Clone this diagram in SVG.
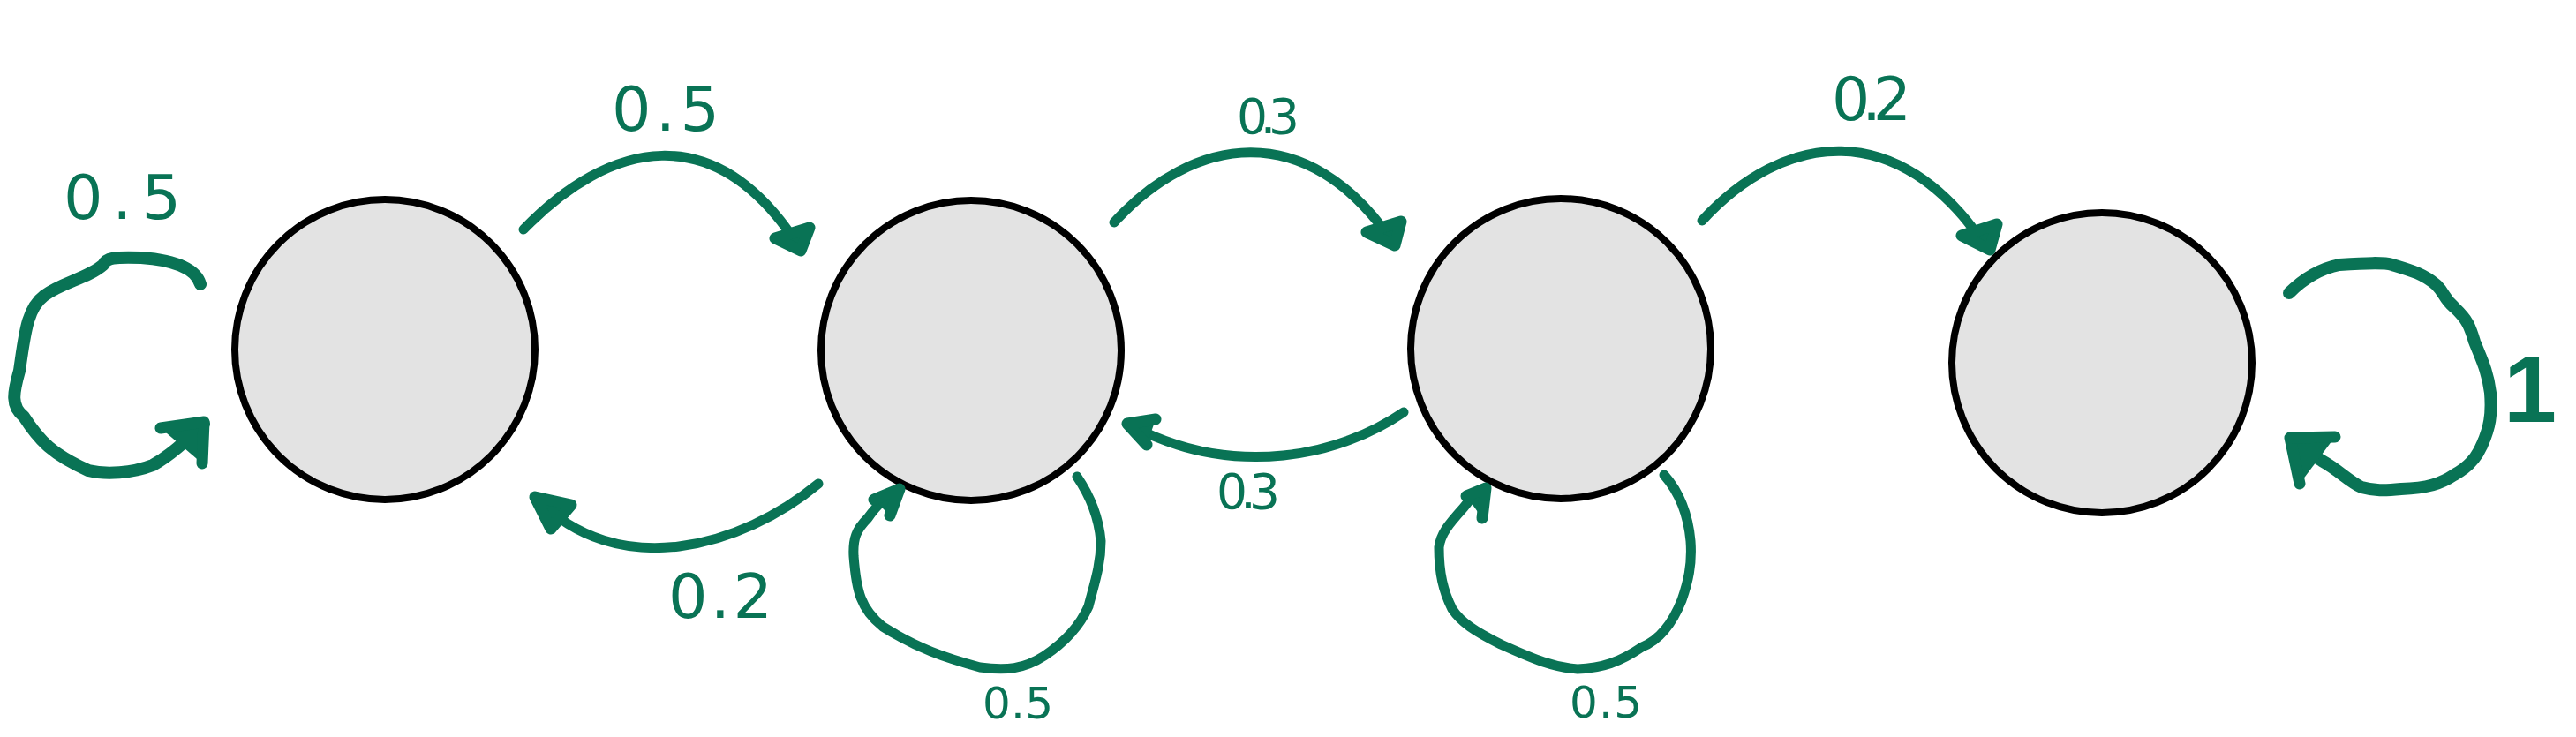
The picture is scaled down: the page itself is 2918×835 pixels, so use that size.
<svg xmlns="http://www.w3.org/2000/svg" width="2918" height="835" viewBox="0 0 2918 835">
<style>
.node{fill:#e3e3e3;stroke:#000;stroke-width:8}
.edge{fill:none;stroke:#097355;stroke-width:11;stroke-linecap:round;stroke-linejoin:round}
.thick{stroke-width:14}
.head{fill:#097355;stroke:#097355;stroke-width:13;stroke-linecap:round;stroke-linejoin:round}
.lbl{font-family:"DejaVu Sans","Liberation Sans",sans-serif;fill:#097355}
</style>
<rect width="2918" height="835" fill="#fff"/>
<g id="node1"><circle class="node" cx="436" cy="396" r="170"/></g>
<g id="node2"><circle class="node" cx="1100" cy="397" r="170"/></g>
<g id="node3"><circle class="node" cx="1768" cy="395" r="170"/></g>
<g id="node4"><circle class="node" cx="2381" cy="411" r="170"/></g>
<g id="connectors">
  <path class="edge thick" d="M227,322 C222,305 200,295 160,292 C130,291 120,292 117,300 C100,315 70,320 50,335 C30,350 28,380 22,420 C15,445 12,460 27,472 C45,500 60,515 100,533 C120,538 150,536 173,527 C195,515 215,495 231,480"/>
  <path class="head" d="M182,485 L231,478 L229,525"/>
  <path class="edge" d="M593,260 C690,160 810,130 906,281"/>
  <path class="head" d="M878,270 L907,284 L917,258 Z"/>
  <path class="edge" d="M927,548 C840,620 700,660 607,564"/>
  <path class="head" d="M647,572 L606,563 L624,599 Z"/>
  <path class="edge" d="M1220,540 C1237,565 1245,590 1247,613 C1247,640 1240,660 1233,687 C1225,705 1210,725 1183,743 C1160,758 1140,760 1110,756 C1070,745 1040,735 1000,710 C975,690 970,670 967,630 C966,610 970,600 983,587 C995,570 1005,562 1018,555"/>
  <path class="head" d="M990,566 L1019,554 L1008,584"/>
  <path class="edge" d="M1262,252 C1350,155 1480,130 1578,275"/>
  <path class="head" d="M1548,263 L1580,278 L1587,251 Z"/>
  <path class="edge" d="M1590,467 C1520,515 1400,545 1279,481"/>
  <path class="head" d="M1309,475 L1277,480 L1299,504"/>
  <path class="edge" d="M1885,538 C1900,555 1912,580 1915,613 C1917,640 1912,660 1905,680 C1895,705 1880,725 1860,733 C1835,750 1815,757 1787,758 C1760,756 1740,748 1700,730 C1670,715 1655,705 1645,690 C1635,670 1630,650 1630,620 C1632,605 1640,595 1658,575 C1665,565 1672,560 1682,553"/>
  <path class="head" d="M1661,562 L1683,553 L1679,587"/>
  <path class="edge" d="M1928,250 C2020,150 2150,130 2250,280"/>
  <path class="head" d="M2222,267 L2254,283 L2262,254 Z"/>
  <path class="edge thick" d="M2593,332 C2605,320 2625,305 2650,300 C2680,298 2700,297 2710,300 C2730,306 2745,310 2760,323 C2770,333 2768,338 2780,348 C2795,362 2798,370 2803,387 C2810,405 2818,420 2821,445 C2823,470 2820,485 2812,503 C2805,520 2795,530 2780,538 C2765,548 2750,553 2720,554 C2700,556 2690,556 2675,552 C2660,545 2650,533 2630,522 C2615,512 2605,505 2596,499"/>
  <path class="head" d="M2645,495 L2594,496 L2605,548"/>
</g>
<g id="labels">
  <text class="lbl" x="72" y="248" font-size="70" textLength="133" lengthAdjust="spacing">0.5</text>
  <text class="lbl" x="693" y="148" font-size="70" textLength="122" lengthAdjust="spacing">0.5</text>
  <text class="lbl" x="757" y="700" font-size="70" textLength="118" lengthAdjust="spacing">0.2</text>
  <text class="lbl" x="1113" y="814" font-size="50" textLength="80" lengthAdjust="spacing">0.5</text>
  <text class="lbl" x="1401" y="151" font-size="55" textLength="71" lengthAdjust="spacing">0.3</text>
  <text class="lbl" x="1378" y="576" font-size="55" textLength="72" lengthAdjust="spacing">0.3</text>
  <text class="lbl" x="1778" y="813" font-size="50" textLength="82" lengthAdjust="spacing">0.5</text>
  <text class="lbl" x="2075" y="136" font-size="68" textLength="90" lengthAdjust="spacing">0.2</text>
  <text x="2866" y="478" font-size="108" font-weight="bold" text-anchor="middle" font-family="Liberation Sans, Arial, sans-serif" fill="#097355">1</text>
</g>
</svg>
